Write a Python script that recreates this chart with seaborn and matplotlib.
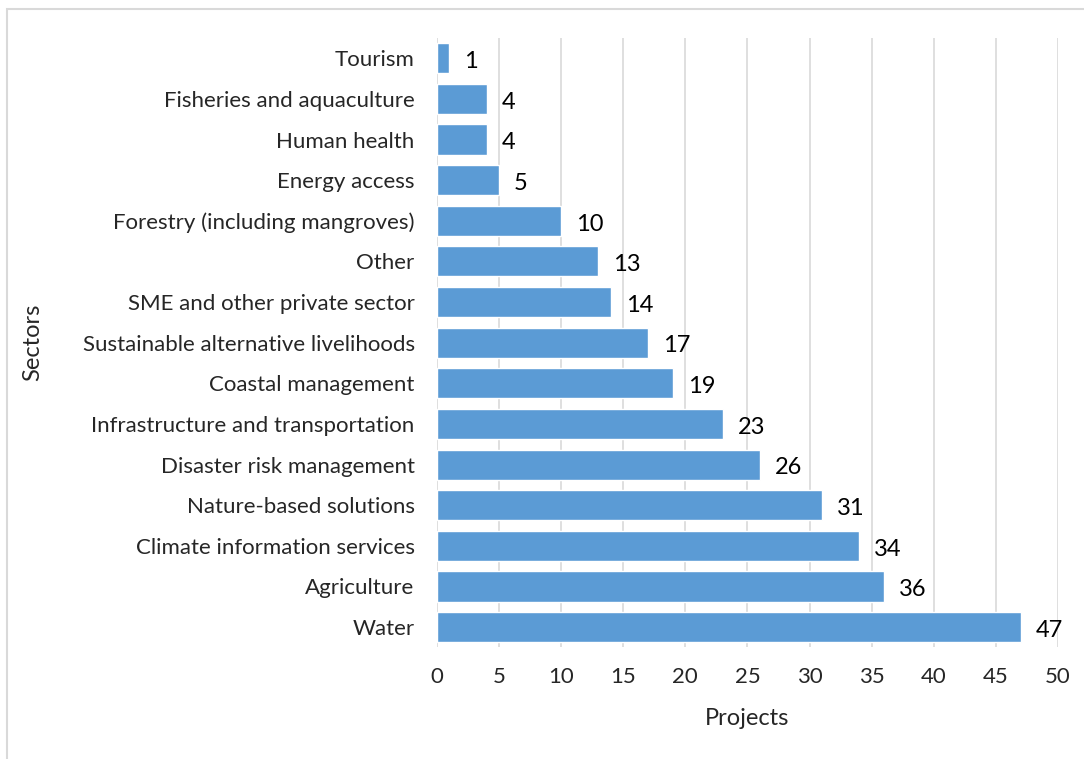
import matplotlib
matplotlib.use("Agg")
import matplotlib.pyplot as plt
import matplotlib.patches as mpatches
import seaborn as sns
import pandas as pd

sectors = ["Tourism", "Fisheries and aquaculture", "Human health", "Energy access",
           "Forestry (including mangroves)", "Other", "SME and other private sector",
           "Sustainable alternative livelihoods", "Coastal management",
           "Infrastructure and transportation", "Disaster risk management",
           "Nature-based solutions", "Climate information services", "Agriculture", "Water"]
projects = [1, 4, 4, 5, 10, 13, 14, 17, 19, 23, 26, 31, 34, 36, 47]
xticks = list(range(0, 51, 5))

df = pd.DataFrame({"Sectors": sectors, "Projects": projects})

sns.set_style("white")
plt.rcParams['font.family'] = ['Lato', 'DejaVu Sans']

fig = plt.figure(figsize=(10.84, 7.59), dpi=100)
ax = fig.add_axes([0.403, 0.147, 0.573, 0.803])

# light frame around the chart area, like the source export
fig.patches.append(mpatches.Rectangle((7 / 1084, -0.1), 1.2, 1 - 9 / 759 + 0.1,
                                      transform=fig.transFigure, fill=False,
                                      edgecolor="#d9d9d9", linewidth=1.5, zorder=0))

sns.barplot(data=df, x="Projects", y="Sectors", orient="h", color="#5B9BD5",
            saturation=1, width=0.74, ax=ax, zorder=3)

for i, v in enumerate(projects):
    ax.text(v + 1.2, i + 0.08, str(v), va="center", ha="left", fontsize=17, color="black")

ax.set_xlim(0, 50)
ax.set_xticks(xticks)
ax.set_xticklabels([str(t) for t in xticks], fontsize=16)
ax.tick_params(axis="y", labelsize=16, length=0, pad=16)
ax.tick_params(axis="x", length=0, pad=14)
ax.xaxis.grid(True, color="#d9d9d9", linewidth=1.2, zorder=0)
ax.set_axisbelow(True)
for s in ax.spines.values():
    s.set_visible(False)
ax.set_xlabel("Projects", fontsize=17, labelpad=15)
ax.set_ylabel("Sectors", fontsize=17, labelpad=28)

fig.savefig("out.png", dpi=100)
